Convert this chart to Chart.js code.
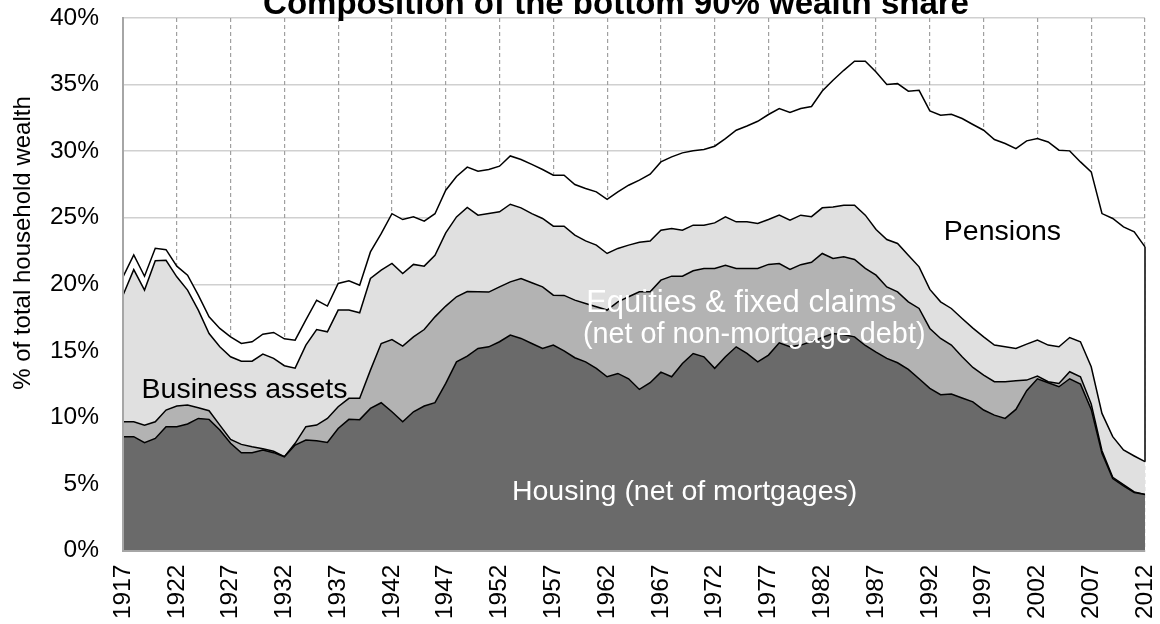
<!DOCTYPE html>
<html>
<head>
<meta charset="utf-8">
<script src="https://cdn.jsdelivr.net/npm/chart.js@4.4.1/dist/chart.umd.min.js"></script>
<style>
html,body{margin:0;padding:0;background:#fff;}
#wrap{width:1160px;height:624px;position:relative;overflow:hidden;}
</style>
</head>
<body>
<div id="wrap"><canvas id="c" width="1160" height="624"></canvas></div>
<script>
const years = [1917,1918,1919,1920,1921,1922,1923,1924,1925,1926,
1927,1928,1929,1930,1931,1932,1933,1934,1935,1936,
1937,1938,1939,1940,1941,1942,1943,1944,1945,1946,
1947,1948,1949,1950,1951,1952,1953,1954,1955,1956,
1957,1958,1959,1960,1961,1962,1963,1964,1965,1966,
1967,1968,1969,1970,1971,1972,1973,1974,1975,1976,
1977,1978,1979,1980,1981,1982,1983,1984,1985,1986,
1987,1988,1989,1990,1991,1992,1993,1994,1995,1996,
1997,1998,1999,2000,2001,2002,2003,2004,2005,2006,
2007,2008,2009,2010,2011,2012];

const housing = [8.55,8.55,8.10,8.42,9.30,9.30,9.50,9.92,9.85,9.05,
8.05,7.34,7.34,7.55,7.35,7.04,7.92,8.30,8.24,8.12,
9.17,9.85,9.83,10.67,11.10,10.42,9.67,10.42,10.85,11.10,
12.55,14.17,14.60,15.18,15.30,15.68,16.18,15.93,15.55,15.18,
15.43,15.00,14.48,14.17,13.68,13.05,13.30,12.90,12.10,12.60,
13.40,13.05,14.05,14.80,14.55,13.68,14.55,15.30,14.80,14.17,
14.68,15.60,15.30,15.43,15.70,16.00,16.30,16.20,16.05,15.40,
14.90,14.43,14.10,13.60,12.90,12.18,11.70,11.75,11.45,11.17,
10.55,10.17,9.92,10.60,12.00,12.90,12.60,12.30,12.90,12.50,
10.60,7.30,5.40,4.85,4.35,4.20];

const business = [1.12,1.12,1.32,1.25,1.25,1.55,1.42,0.80,0.65,0.37,
0.30,0.63,0.46,0.10,0.10,0.00,0.13,1.00,1.18,1.80,
1.63,1.58,1.60,2.88,4.45,5.43,5.68,5.63,5.75,6.45,
5.81,4.89,4.85,4.25,4.11,4.12,4.00,4.50,4.56,4.62,
3.75,4.16,4.33,4.39,4.63,5.01,5.38,6.16,7.33,6.83,
6.91,7.56,6.56,6.21,6.64,7.51,6.88,5.89,6.39,7.02,
6.81,5.96,5.81,6.04,5.95,6.31,5.64,5.86,5.81,5.79,
5.78,5.37,5.33,5.08,5.28,4.50,4.23,3.68,3.10,2.58,
2.63,2.51,2.76,2.15,0.80,0.20,0.08,0.25,0.53,0.55,
0.40,0.20,0.10,0.10,0.05,0.00];

const equities = [9.51,11.43,10.14,12.09,11.25,9.71,8.64,7.34,5.80,5.88,
6.20,6.25,6.42,7.10,6.98,6.84,5.65,6.13,7.18,6.51,
7.26,6.63,6.43,6.88,5.51,5.71,5.46,5.44,4.76,4.63,
5.50,6.00,6.32,5.76,5.90,5.64,5.83,5.31,5.20,5.14,
5.18,5.20,4.88,4.70,4.63,4.25,4.01,3.88,3.72,3.81,
3.75,3.58,3.45,3.43,3.25,3.42,3.63,3.50,3.50,3.37,
3.37,3.63,3.70,3.72,3.43,3.43,3.87,3.88,4.08,4.00,
3.43,3.56,3.63,3.50,3.13,2.93,2.75,2.75,2.88,2.95,
2.87,2.75,2.62,2.43,2.70,2.70,2.75,2.75,2.57,2.63,
2.80,2.80,3.05,2.60,2.70,2.47];

const pensions = [1.38,1.10,1.04,0.94,0.80,0.80,1.12,1.12,1.25,1.38,
1.50,1.33,1.46,1.50,1.95,2.02,2.10,1.90,2.20,1.93,
2.00,2.20,2.07,2.00,2.74,3.74,4.05,3.57,3.38,3.12,
3.20,3.04,3.03,3.30,3.31,3.43,3.63,3.63,3.69,3.68,
3.83,3.83,3.80,3.93,4.00,4.06,4.25,4.50,4.67,5.03,
5.13,5.38,5.81,5.58,5.68,5.76,5.88,6.88,7.20,7.68,
7.89,8.01,8.09,8.01,8.27,8.78,9.51,10.13,10.81,11.56,
11.84,11.64,12.01,12.32,13.26,13.41,14.02,14.59,15.02,15.30,
15.52,15.44,15.27,15.01,15.27,15.14,15.26,14.77,14.02,13.51,
14.64,15.01,16.39,16.76,16.84,16.14];

const seriesNames = ['Housing (net of mortgages)','Business assets','Equities & fixed claims (net of non-mortgage debt)','Pensions'];
const tickEvery = 5;
const FONT = "'Liberation Sans', Arial, sans-serif";

// in-chart labels, anchored in data space (category index, percent)
const inChartLabels = [
  {text:'Pensions', idx:81.75, val:23.3, color:'#000', size:28.5, align:'center'},
  {text:'Business assets', idx:11.3, val:11.45, color:'#000', size:28.5, align:'center'},
  {text:'Equities & fixed claims', idx:43.05, val:17.95, color:'#fff', size:31, align:'left'},
  {text:'(net of non-mortgage debt)', idx:42.75, val:15.6, color:'#fff', size:28.8, align:'left'},
  {text:'Housing (net of mortgages)', idx:52.2, val:3.8, color:'#fff', size:28.5, align:'center'}
];

const decorPlugin = {
  id:'decor',
  afterDatasetsDraw(chart){
    const ctx = chart.ctx;
    const xs = chart.scales.x, ys = chart.scales.y;
    const last = years.length - 1;
    const mTop = chart.getDatasetMeta(3).data[last];
    const mBot = chart.getDatasetMeta(2).data[last];
    ctx.save();
    ctx.strokeStyle = '#000'; ctx.lineWidth = 1.5;
    ctx.beginPath(); ctx.moveTo(mTop.x, mTop.y); ctx.lineTo(mBot.x, mBot.y); ctx.stroke();
    ctx.textBaseline = 'alphabetic';
    inChartLabels.forEach(l => {
      ctx.font = l.size + 'px ' + FONT;
      ctx.textAlign = l.align;
      ctx.fillStyle = l.color;
      ctx.fillText(l.text, xs.getPixelForValue(l.idx), ys.getPixelForValue(l.val));
    });
    ctx.restore();
  },
  afterDraw(chart){
    const ctx = chart.ctx;
    ctx.save();
    ctx.fillStyle = '#000';
    ctx.font = 'bold 33px ' + FONT;
    ctx.textAlign = 'center'; ctx.textBaseline = 'alphabetic';
    ctx.fillText('Composition of the bottom 90% wealth share', 616, 14);
    ctx.translate(30, 243);
    ctx.rotate(-Math.PI/2);
    ctx.font = '24px ' + FONT;
    ctx.fillText('% of total household wealth', 0, 0);
    ctx.restore();
  }
};

const fills = ['#6a6a6a','#b3b3b3','#e0e0e0','#ffffff'];
const values = [housing, business, equities, pensions];

new Chart(document.getElementById('c'), {
  type:'line',
  data:{
    labels: years,
    datasets: values.map((v,i) => ({
      label: seriesNames[i],
      data: v,
      fill: i === 0 ? 'origin' : '-1',
      backgroundColor: fills[i],
      borderColor:'#000',
      borderWidth:1.5,
      pointRadius:0,
      tension:0
    }))
  },
  options:{
    responsive:false,
    animation:false,
    devicePixelRatio:1,
    layout:{padding:{left:0, right:15, top:18, bottom:0}},
    plugins:{legend:{display:false}, title:{display:false}, tooltip:{enabled:false}},
    elements:{line:{borderJoinStyle:'miter'}},
    scales:{
      x:{
        type:'category',
        offset:false,
        afterFit(s){ s.height = 73.5; s.paddingLeft = 0; s.paddingRight = 0; },
        grid:{
          color: c => (c.index % tickEvery === 0) ? '#a0a0a0' : 'rgba(0,0,0,0)',
          lineWidth:1.2, drawTicks:false, z:0
        },
        border:{display:true, color:'#a6a6a6', width:2, dash:[4,3], z:1},
        ticks:{
          autoSkip:false, maxRotation:90, minRotation:90, padding:14,
          color:'#000', font:{family:FONT, size:24.5},
          callback:(v,i) => (i % tickEvery === 0) ? String(years[i]) : ''
        }
      },
      y:{
        stacked:true,
        min:0, max:40,
        afterFit(s){ s.width = 123; s.paddingTop = 0; s.paddingBottom = 0; },
        grid:{color:'#d0d0d0', lineWidth:1.5, drawTicks:false},
        border:{display:true, color:'#a6a6a6', width:2, z:1},
        ticks:{
          stepSize:5, padding:24, color:'#000',
          font:{family:FONT, size:24.5},
          callback:v => v + '%'
        }
      }
    }
  },
  plugins:[decorPlugin]
});
</script>
</body>
</html>
